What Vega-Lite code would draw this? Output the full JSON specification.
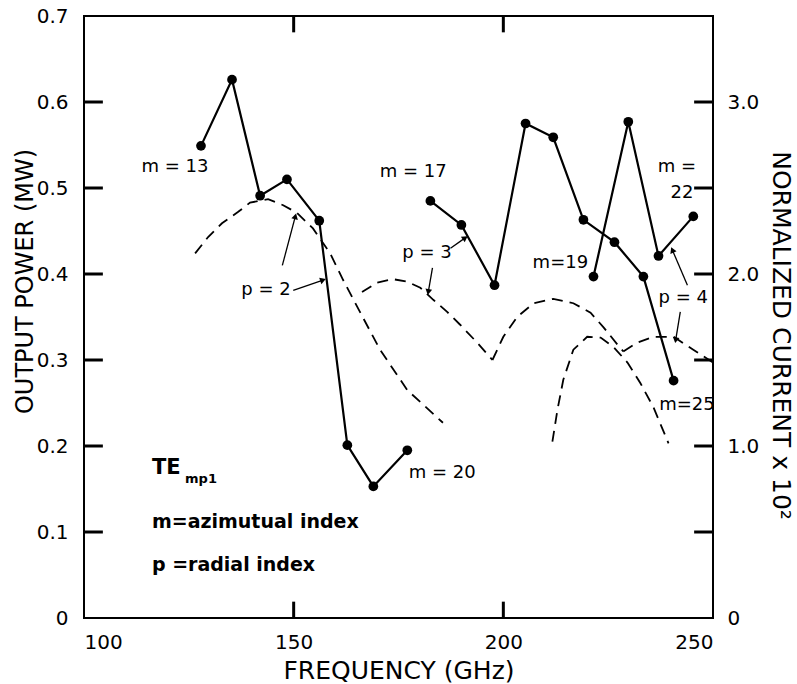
{
  "$schema": "https://vega.github.io/schema/vega-lite/v6.json",
  "width": 629,
  "height": 602,
  "autosize": {"type": "none"},
  "padding": {"left": 84, "top": 16, "right": 84, "bottom": 66},
  "background": "white",
  "config": {
    "view": {"stroke": "black", "strokeWidth": 2},
    "axis": {
      "grid": false, "domain": false, "ticks": false, "tickSize": 0,
      "labelColor": "black", "titleColor": "black",
      "labelFont": "DejaVu Sans", "titleFont": "DejaVu Sans", "labelFontSize": 20,
      "titleFontSize": 24, "titleFontWeight": "normal"
    },
    "text": {"font": "DejaVu Sans", "color": "black"}
  },
  "datasets": {
    "power": [
      {"s": "a", "f": 127.9, "p": 0.549}, {"s": "a", "f": 135.3, "p": 0.626}, {"s": "a", "f": 142.0, "p": 0.491},
      {"s": "a", "f": 148.4, "p": 0.510}, {"s": "a", "f": 156.1, "p": 0.462}, {"s": "a", "f": 162.8, "p": 0.201},
      {"s": "a", "f": 169.0, "p": 0.153}, {"s": "a", "f": 177.1, "p": 0.195},
      {"s": "b", "f": 182.6, "p": 0.485}, {"s": "b", "f": 190.0, "p": 0.457}, {"s": "b", "f": 197.9, "p": 0.387},
      {"s": "b", "f": 205.3, "p": 0.575}, {"s": "b", "f": 211.9, "p": 0.559}, {"s": "b", "f": 219.1, "p": 0.463},
      {"s": "b", "f": 226.5, "p": 0.437}, {"s": "b", "f": 233.4, "p": 0.397}, {"s": "b", "f": 240.6, "p": 0.276},
      {"s": "c", "f": 221.5, "p": 0.397}, {"s": "c", "f": 229.8, "p": 0.577}, {"s": "c", "f": 237.0, "p": 0.421},
      {"s": "c", "f": 245.3, "p": 0.467}
    ],
    "current": [
      {"c": "A", "f": 126.5, "i": 2.12}, {"c": "A", "f": 129.6, "i": 2.215}, {"c": "A", "f": 132.9, "i": 2.295},
      {"c": "A", "f": 136.7, "i": 2.36}, {"c": "A", "f": 139.6, "i": 2.415}, {"c": "A", "f": 143.9, "i": 2.435},
      {"c": "A", "f": 147.5, "i": 2.40}, {"c": "A", "f": 150.8, "i": 2.355}, {"c": "A", "f": 154.6, "i": 2.265},
      {"c": "A", "f": 158.7, "i": 2.12}, {"c": "A", "f": 161.8, "i": 1.965}, {"c": "A", "f": 165.9, "i": 1.775},
      {"c": "A", "f": 170.6, "i": 1.56}, {"c": "A", "f": 177.1, "i": 1.325}, {"c": "A", "f": 185.6, "i": 1.135},
      {"c": "B", "f": 166.3, "i": 1.895}, {"c": "B", "f": 169.9, "i": 1.95}, {"c": "B", "f": 173.7, "i": 1.97},
      {"c": "B", "f": 177.1, "i": 1.955}, {"c": "B", "f": 180.2, "i": 1.92}, {"c": "B", "f": 183.3, "i": 1.85},
      {"c": "B", "f": 186.6, "i": 1.78}, {"c": "B", "f": 189.7, "i": 1.705}, {"c": "B", "f": 193.8, "i": 1.60},
      {"c": "B", "f": 197.4, "i": 1.50},
      {"c": "C", "f": 197.4, "i": 1.50}, {"c": "C", "f": 200.0, "i": 1.635}, {"c": "C", "f": 203.3, "i": 1.75},
      {"c": "C", "f": 207.2, "i": 1.83}, {"c": "C", "f": 211.9, "i": 1.855}, {"c": "C", "f": 216.7, "i": 1.83},
      {"c": "C", "f": 220.8, "i": 1.775}, {"c": "C", "f": 223.9, "i": 1.69}, {"c": "C", "f": 227.2, "i": 1.59},
      {"c": "C", "f": 228.6, "i": 1.55},
      {"c": "D", "f": 211.7, "i": 1.025}, {"c": "D", "f": 212.9, "i": 1.21}, {"c": "D", "f": 214.3, "i": 1.385},
      {"c": "D", "f": 216.7, "i": 1.56}, {"c": "D", "f": 220.0, "i": 1.635}, {"c": "D", "f": 223.2, "i": 1.63},
      {"c": "D", "f": 226.3, "i": 1.575}, {"c": "D", "f": 229.6, "i": 1.485}, {"c": "D", "f": 232.7, "i": 1.365},
      {"c": "D", "f": 235.8, "i": 1.225}, {"c": "D", "f": 239.4, "i": 1.015},
      {"c": "E", "f": 228.6, "i": 1.55}, {"c": "E", "f": 231.9, "i": 1.60}, {"c": "E", "f": 235.8, "i": 1.635},
      {"c": "E", "f": 240.6, "i": 1.635}, {"c": "E", "f": 245.3, "i": 1.56}, {"c": "E", "f": 250.0, "i": 1.485}
    ],
    "labels": [
      {"t": "m = 13", "f": 121.7, "p": 0.524}, {"t": "m = 17", "f": 178.5, "p": 0.519},
      {"t": "m=19", "f": 213.6, "p": 0.413}, {"t": "m =", "f": 241.4, "p": 0.524},
      {"t": "22", "f": 242.6, "p": 0.494}, {"t": "m = 20", "f": 185.4, "p": 0.169},
      {"t": "m=25", "f": 243.8, "p": 0.248}, {"t": "p = 2", "f": 143.4, "p": 0.381},
      {"t": "p = 3", "f": 181.8, "p": 0.424}, {"t": "p = 4", "f": 242.9, "p": 0.372}
    ],
    "arrows": [
      {"x": 147.3, "y": 0.410, "x2": 150.4, "y2": 0.467}, {"x": 149.9, "y": 0.381, "x2": 157.0, "y2": 0.393},
      {"x": 187.4, "y": 0.430, "x2": 190.9, "y2": 0.442}, {"x": 183.1, "y": 0.407, "x2": 182.1, "y2": 0.379},
      {"x": 243.9, "y": 0.387, "x2": 240.3, "y2": 0.428}, {"x": 242.2, "y": 0.356, "x2": 241.1, "y2": 0.323}
    ],
    "legend": [
      {"t": "m=azimutual index", "f": 116.2, "p": 0.112}, {"t": "p =radial index", "f": 116.2, "p": 0.062}
    ],
    "leftTicks": [{"v": 0.1}, {"v": 0.2}, {"v": 0.3}, {"v": 0.4}, {"v": 0.5}, {"v": 0.6}],
    "rightTicks": [{"v": 0.5}, {"v": 1.0}, {"v": 1.5}, {"v": 2.0}, {"v": 2.5}, {"v": 3.0}],
    "xTicks": [{"v": 150}, {"v": 200}]
  },
  "layer": [
    {
      "data": {"name": "power"},
      "mark": {"type": "line", "color": "black", "strokeWidth": 2.2},
      "encoding": {
        "x": {"field": "f", "type": "quantitative", "scale": {"domain": [100, 250], "nice": false},
          "axis": {"orient": "bottom", "values": [100, 150, 200, 250], "labelPadding": 14,
            "title": "FREQUENCY (GHz)", "titleY": 52, "titleBaseline": "middle", "titleFontSize": 25}},
        "y": {"field": "p", "type": "quantitative", "scale": {"domain": [0, 0.7], "nice": false},
          "axis": {"orient": "left", "values": [0, 0.1, 0.2, 0.3, 0.4, 0.5, 0.6, 0.7], "labelPadding": 16,
            "labelExpr": "datum.value == 0 ? '0' : format(datum.value, '.1f')",
            "title": "OUTPUT POWER (MW)", "titleX": -59, "titleY": 265, "titleAngle": -90, "titleBaseline": "middle", "titleAlign": "center"}},
        "detail": {"field": "s"}
      }
    },
    {
      "data": {"name": "power"},
      "mark": {"type": "point", "filled": true, "color": "black", "size": 95, "opacity": 1},
      "encoding": {
        "x": {"field": "f", "type": "quantitative", "scale": {"domain": [100, 250], "nice": false}, "axis": null},
        "y": {"field": "p", "type": "quantitative", "scale": {"domain": [0, 0.7], "nice": false}, "axis": null}
      }
    },
    {
      "data": {"name": "current"},
      "mark": {"type": "line", "color": "black", "strokeWidth": 1.8, "strokeDash": [11, 7]},
      "encoding": {
        "x": {"field": "f", "type": "quantitative", "scale": {"domain": [100, 250], "nice": false}, "axis": null},
        "y": {"field": "i", "type": "quantitative", "scale": {"domain": [0, 3.5], "nice": false},
          "axis": {"orient": "right", "values": [0, 1, 2, 3], "labelPadding": 14,
            "labelExpr": "datum.value == 0 ? '0' : format(datum.value, '.1f')",
            "title": "NORMALIZED CURRENT x 10²", "titleX": 67, "titleY": 319, "titleAngle": 90, "titleBaseline": "middle", "titleAlign": "center", "titleFontSize": 25}},
        "detail": {"field": "c"}
      }
    },
    {
      "data": {"name": "leftTicks"},
      "mark": {"type": "rule", "color": "black", "strokeWidth": 3},
      "encoding": {
        "x": {"datum": 100, "type": "quantitative", "scale": {"domain": [100, 250], "nice": false}, "axis": null},
        "x2": {"datum": 104.5},
        "y": {"field": "v", "type": "quantitative", "scale": {"domain": [0, 0.7], "nice": false}, "axis": null}
      }
    },
    {
      "data": {"name": "rightTicks"},
      "mark": {"type": "rule", "color": "black", "strokeWidth": 3},
      "encoding": {
        "x": {"datum": 245.5, "type": "quantitative", "scale": {"domain": [100, 250], "nice": false}, "axis": null},
        "x2": {"datum": 250},
        "y": {"field": "v", "type": "quantitative", "scale": {"domain": [0, 3.5], "nice": false}, "axis": null}
      }
    },
    {
      "data": {"name": "xTicks"},
      "mark": {"type": "rule", "color": "black", "strokeWidth": 3},
      "encoding": {
        "x": {"field": "v", "type": "quantitative", "scale": {"domain": [100, 250], "nice": false}, "axis": null},
        "y": {"datum": 0, "type": "quantitative", "scale": {"domain": [0, 0.7], "nice": false}, "axis": null},
        "y2": {"datum": 0.019}
      }
    },
    {
      "data": {"name": "xTicks"},
      "mark": {"type": "rule", "color": "black", "strokeWidth": 3},
      "encoding": {
        "x": {"field": "v", "type": "quantitative", "scale": {"domain": [100, 250], "nice": false}, "axis": null},
        "y": {"datum": 0.681, "type": "quantitative", "scale": {"domain": [0, 0.7], "nice": false}, "axis": null},
        "y2": {"datum": 0.7}
      }
    },
    {
      "data": {"name": "labels"},
      "mark": {"type": "text", "fontSize": 18, "align": "center", "baseline": "middle"},
      "encoding": {
        "x": {"field": "f", "type": "quantitative", "scale": {"domain": [100, 250], "nice": false}, "axis": null},
        "y": {"field": "p", "type": "quantitative", "scale": {"domain": [0, 0.7], "nice": false}, "axis": null},
        "text": {"field": "t"}
      }
    },
    {
      "data": {"name": "arrows"},
      "mark": {"type": "rule", "color": "black", "strokeWidth": 1.3},
      "encoding": {
        "x": {"field": "x", "type": "quantitative", "scale": {"domain": [100, 250], "nice": false}, "axis": null},
        "y": {"field": "y", "type": "quantitative", "scale": {"domain": [0, 0.7], "nice": false}, "axis": null},
        "x2": {"field": "x2"},
        "y2": {"field": "y2"}
      }
    },
    {
      "data": {"name": "arrows"},
      "transform": [{"calculate": "atan2((datum.x2 - datum.x) * 4.193, (datum.y2 - datum.y) * 860) * 180 / PI", "as": "ang"}],
      "mark": {"type": "point", "shape": "triangle-up", "filled": true, "color": "black", "size": 45, "opacity": 1},
      "encoding": {
        "x": {"field": "x2", "type": "quantitative", "scale": {"domain": [100, 250], "nice": false}, "axis": null},
        "y": {"field": "y2", "type": "quantitative", "scale": {"domain": [0, 0.7], "nice": false}, "axis": null},
        "angle": {"field": "ang", "type": "quantitative", "scale": null}
      }
    },
    {
      "data": {"name": "legend"},
      "mark": {"type": "text", "fontSize": 19, "fontWeight": "bold", "align": "left", "baseline": "middle"},
      "encoding": {
        "x": {"field": "f", "type": "quantitative", "scale": {"domain": [100, 250], "nice": false}, "axis": null},
        "y": {"field": "p", "type": "quantitative", "scale": {"domain": [0, 0.7], "nice": false}, "axis": null},
        "text": {"field": "t"}
      }
    },
    {
      "data": {"values": [{"t": "TE", "f": 116.2, "p": 0.174}]},
      "mark": {"type": "text", "fontSize": 21, "fontWeight": "bold", "align": "left", "baseline": "middle"},
      "encoding": {
        "x": {"field": "f", "type": "quantitative", "scale": {"domain": [100, 250], "nice": false}, "axis": null},
        "y": {"field": "p", "type": "quantitative", "scale": {"domain": [0, 0.7], "nice": false}, "axis": null},
        "text": {"field": "t"}
      }
    },
    {
      "data": {"values": [{"t": "mp1", "f": 124.1, "p": 0.162}]},
      "mark": {"type": "text", "fontSize": 13, "fontWeight": "bold", "align": "left", "baseline": "middle"},
      "encoding": {
        "x": {"field": "f", "type": "quantitative", "scale": {"domain": [100, 250], "nice": false}, "axis": null},
        "y": {"field": "p", "type": "quantitative", "scale": {"domain": [0, 0.7], "nice": false}, "axis": null},
        "text": {"field": "t"}
      }
    }
  ],
  "resolve": {"scale": {"y": "independent"}, "axis": {"x": "independent", "y": "independent"}}
}
